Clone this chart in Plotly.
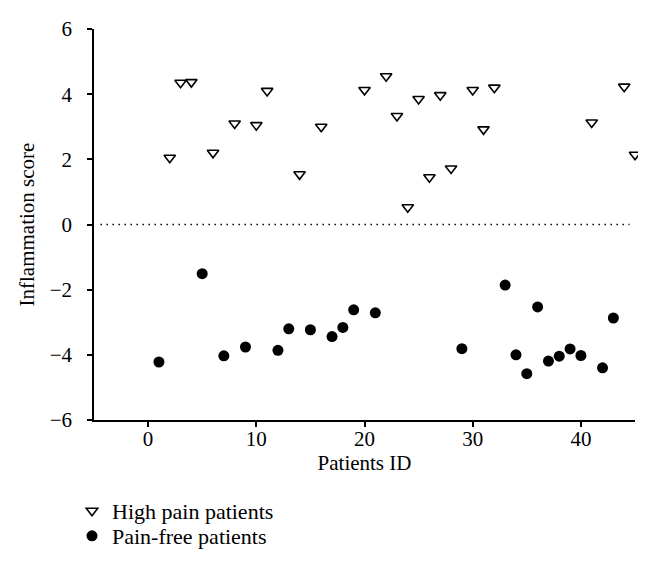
import plotly.graph_objects as go

high_x = [2, 3, 4, 6, 8, 10, 11, 14, 16, 20, 22, 23, 24, 25, 26, 27, 28, 30, 31, 32, 41, 44, 45]
high_y = [2.05, 4.35, 4.37, 2.2, 3.1, 3.05, 4.1, 1.54, 3.0, 4.13, 4.55, 3.33, 0.53, 3.85, 1.45, 3.97, 1.72, 4.13, 2.92, 4.2, 3.13, 4.23, 2.14]

free_x = [1, 5, 7, 9, 12, 13, 15, 17, 18, 19, 21, 29, 33, 34, 35, 36, 37, 38, 39, 40, 42, 43]
free_y = [-4.22, -1.51, -4.03, -3.76, -3.86, -3.2, -3.23, -3.44, -3.16, -2.62, -2.71, -3.81, -1.86, -4.0, -4.58, -2.53, -4.19, -4.04, -3.82, -4.02, -4.4, -2.87]

x_ticks = [0, 10, 20, 30, 40]
y_ticks = [-6, -4, -2, 0, 2, 4, 6]

FONT = "Liberation Serif"

fig = go.Figure()
fig.add_trace(go.Scatter(
    x=high_x, y=high_y, mode="markers", name="High pain patients",
    marker=dict(symbol="triangle-down", size=10, color="white",
                line=dict(color="black", width=1.6)),
    cliponaxis=False, legend="legend",
))
fig.add_trace(go.Scatter(
    x=free_x, y=free_y, mode="markers", name="Pain-free patients",
    marker=dict(symbol="circle", size=11, color="black",
                line=dict(color="black", width=0)),
    cliponaxis=False, legend="legend2",
))

fig.add_shape(type="line", xref="paper", yref="y", x0=0.012, x1=0.99, y0=0, y1=0,
              line=dict(color="black", width=1.5, dash="1.5px,4.5px"))

fig.add_annotation(
    text="Inflammation score", xref="paper", yref="paper",
    x=(18 - 86) / 541, y=0.50, textangle=-90, showarrow=False,
    xanchor="center", yanchor="middle",
    font=dict(family=FONT, size=21, color="black"),
)

leg_common = dict(
    xref="container", yref="container", xanchor="left", yanchor="top",
    font=dict(family=FONT, size=22, color="black"),
    bgcolor="rgba(0,0,0,0)", borderwidth=0,
)

fig.update_layout(
    width=646, height=565,
    margin=dict(l=86, r=19, t=21, b=153, autoexpand=False),
    paper_bgcolor="white", plot_bgcolor="white",
    font=dict(family=FONT, size=21, color="black"),
    showlegend=True,
    legend=dict(x=64/646, y=1-482/565, **leg_common),
    legend2=dict(x=64/646, y=1-507/565, **leg_common),
)
fig.update_xaxes(
    range=[-5, 45], tickvals=x_ticks, ticks="outside", ticklen=5, tickwidth=1.5,
    tickcolor="black", showline=True, linecolor="black", linewidth=1.5,
    showgrid=False, zeroline=False, ticklabelstandoff=-6,
    title=dict(text="Patients ID", font=dict(family=FONT, size=21), standoff=3),
)
fig.update_yaxes(
    range=[-6, 6], tickvals=y_ticks, ticktext=["\u22126", "\u22124", "\u22122", "0", "2", "4", "6"],
    ticks="outside", ticklen=5, tickwidth=1.5,
    tickcolor="black", showline=True, linecolor="black", linewidth=1.5,
    showgrid=False, zeroline=False, ticklabelstandoff=11,
)

fig.write_html("out.html")
